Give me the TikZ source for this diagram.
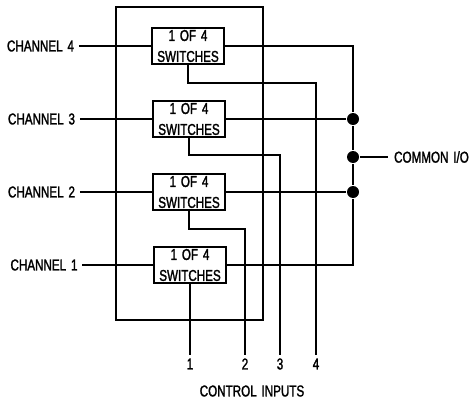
\documentclass[tikz,border=0pt]{standalone}
\usepackage{fontspec}
\setmainfont[FakeStretch=0.74,FakeBold=1.6,WordSpace=1.5]{Liberation Sans}
\usepackage{tikz}
\usetikzlibrary{positioning,calc}

\begin{document}
\begin{tikzpicture}[x=0.75pt,y=-0.75pt,line width=1.5pt,font=\fontsize{11.8pt}{15.7pt}\selectfont,
   sw/.style={rectangle,draw,minimum width=54.5pt,minimum height=27.2pt,inner sep=0pt,align=center},
   lbl/.style={inner sep=0pt,outer xsep=3.75pt,outer ysep=2.5pt},
   dot/.style={circle,fill,minimum size=9pt,inner sep=0pt}]
  \useasboundingbox (0,0) rectangle (473,399);
  \draw (116,7) rectangle (263,320);
  % switches
  \node[sw] (sw4) at (188,46)  {1 OF 4\\SWITCHES};
  \node[sw] (sw3) at (189,119) {1 OF 4\\SWITCHES};
  \node[sw] (sw2) at (189,192) {1 OF 4\\SWITCHES};
  \node[sw] (sw1) at (190,265) {1 OF 4\\SWITCHES};
  % channels
  \node[lbl] (ch4) at (40.5,46)  {CHANNEL 4};
  \node[lbl] (ch3) at (41.5,119) {CHANNEL 3};
  \node[lbl] (ch2) at (41.5,192) {CHANNEL 2};
  \node[lbl] (ch1) at (44,265)   {CHANNEL 1};
  \draw (ch4.east) -- (sw4.west);
  \draw (ch3.east) -- (sw3.west);
  \draw (ch2.east) -- (sw2.west);
  \draw (ch1.east) -- (sw1.west);
  % bus
  \node[dot] (d3) at (353,119) {};
  \node[dot] (dc) at (353,157) {};
  \node[dot] (d2) at (353,192) {};
  \node[lbl,outer xsep=4.5pt] (io) at (431.5,157) {COMMON I/O};
  \draw (sw4.east) -| (d3);
  \draw (sw3.east) -- (d3);
  \draw (sw2.east) -- (d2);
  \draw (sw1.east) -| (d2);
  \draw (d3) -- (dc) -- (d2);
  \draw (dc) -- (io.west);
  % control lines
  \node[lbl] (c1) at (190,364) {1};
  \node[lbl] (c2) at (245,364) {2};
  \node[lbl] (c3) at (280,364) {3};
  \node[lbl] (c4) at (316,364) {4};
  \node[lbl] (ctl) at (252,391) {CONTROL INPUTS};
  \coordinate (k4) at (188,83);
  \coordinate (k3) at (189,155);
  \coordinate (k2) at (189,229);
  \draw (sw1.south) -- (c1.north);
  \draw (sw2.south) -- (k2) -| (c2.north);
  \draw (sw3.south) -- (k3) -| (c3.north);
  \draw (sw4.south) -- (k4) -| (c4.north);
\end{tikzpicture}
\end{document}
